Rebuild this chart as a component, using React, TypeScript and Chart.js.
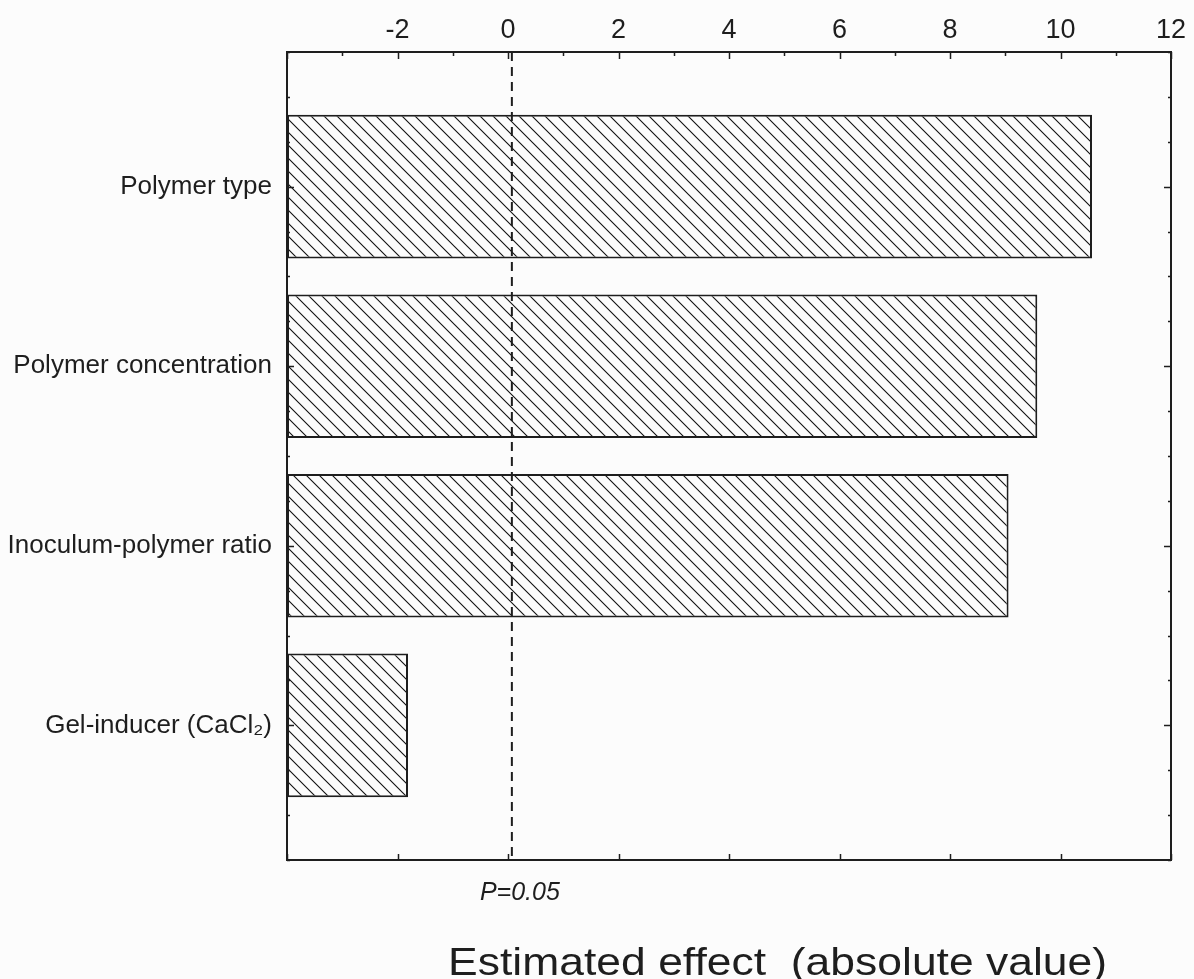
import React, { useEffect, useRef } from 'react';
import { Chart, registerables } from 'chart.js';

Chart.register(...registerables);

// ---- data ----
const CATEGORIES = [
  'Polymer type',
  'Polymer concentration',
  'Inoculum-polymer ratio',
  'Gel-inducer (CaCl₂)',
];
const EFFECTS = [10.57, 9.58, 9.06, -1.81];
const X_MIN = -4;
const X_MAX = 12;
const X_STEP = 2;
const P_LINE = 0.07;
const P_LABEL = 'P=0.05';
const X_TITLE = 'Estimated effect  (absolute value)';

// ---- style ----
const INK = '#1e1e1e';
const BG = '#fcfcfc';
const Y_PAD = 0.75;
const Y_MINOR = 0.25;
const SANS = '"Liberation Sans", Arial, sans-serif';

function makeHatch(target: CanvasRenderingContext2D) {
  const s = 13;
  const c = document.createElement('canvas');
  c.width = s;
  c.height = s;
  const g = c.getContext('2d')!;
  g.fillStyle = BG;
  g.fillRect(0, 0, s, s);
  g.strokeStyle = '#111';
  g.lineWidth = 1.1;
  g.beginPath();
  g.moveTo(-1, -1);
  g.lineTo(s + 1, s + 1);
  g.moveTo(s - 2, -2);
  g.lineTo(s + 2, 2);
  g.moveTo(-2, s - 2);
  g.lineTo(2, s + 2);
  g.stroke();
  return target.createPattern(c, 'repeat');
}

const framePlugin = {
  id: 'frame',
  afterDatasetsDraw(chart: any) {
    const { ctx, chartArea: a, scales } = chart;
    const xs = scales.x;
    const ys = scales.y;
    ctx.save();
    // significance line
    const px = xs.getPixelForValue(P_LINE);
    ctx.strokeStyle = INK;
    ctx.lineWidth = 2;
    ctx.setLineDash([9, 6]);
    ctx.beginPath();
    ctx.moveTo(px, a.top);
    ctx.lineTo(px, a.bottom);
    ctx.stroke();
    ctx.setLineDash([]);
    // frame
    ctx.lineWidth = 2;
    ctx.strokeRect(a.left, a.top, a.right - a.left, a.bottom - a.top);
    // inward ticks
    ctx.lineWidth = 1.5;
    ctx.beginPath();
    const xMinor = X_STEP / 2;
    for (let v = X_MIN; v <= X_MAX + 1e-9; v += xMinor) {
      const p = Math.round(xs.getPixelForValue(v)) + 0.5;
      const major = Math.abs(v / X_STEP - Math.round(v / X_STEP)) < 1e-6;
      ctx.moveTo(p, a.top);
      ctx.lineTo(p, a.top + (major ? 7 : 4));
      if (major) {
        ctx.moveTo(p, a.bottom);
        ctx.lineTo(p, a.bottom - 6);
      }
    }
    for (let v = ys.min; v <= ys.max + 1e-9; v += Y_MINOR) {
      const p = Math.round(ys.getPixelForValue(v)) + 0.5;
      const major = Math.abs(v - Math.round(v)) < 1e-6;
      const len = major ? 7 : 3;
      ctx.moveTo(a.right, p);
      ctx.lineTo(a.right - len, p);
      ctx.moveTo(a.left, p);
      ctx.lineTo(a.left + len, p);
    }
    ctx.stroke();
    ctx.restore();
  },
  afterDraw(chart: any) {
    const { ctx, chartArea: a, scales } = chart;
    const px = scales.x.getPixelForValue(P_LINE);
    ctx.save();
    ctx.fillStyle = INK;
    ctx.textAlign = 'center';
    ctx.textBaseline = 'alphabetic';
    ctx.font = `italic 25px ${SANS}`;
    ctx.fillText(P_LABEL, px + 8, a.bottom + 40);
    ctx.translate(a.left + (a.right - a.left) * 0.555, a.bottom + 115);
    ctx.scale(1.14, 1);
    ctx.font = `39px ${SANS}`;
    ctx.fillText(X_TITLE, 0, 0);
    ctx.restore();
  },
};

export default function App() {
  const ref = useRef<HTMLCanvasElement>(null);

  useEffect(() => {
    const canvas = ref.current!;
    const ctx = canvas.getContext('2d')!;
    const hatch = makeHatch(ctx);
    const chart = new Chart(ctx, {
      type: 'bar',
      data: {
        datasets: [
          {
            data: EFFECTS.map((v, i) => ({ x: v, y: i })) as any,
            base: X_MIN,
            backgroundColor: hatch as any,
            borderColor: INK,
            borderWidth: 2,
            borderSkipped: false,
            barPercentage: 0.8,
            categoryPercentage: 1,
          } as any,
        ],
      },
      options: {
        indexAxis: 'y',
        animation: false,
        responsive: false,
        events: [],
        layout: { padding: { left: 0, top: 0, right: 23, bottom: 119 } },
        plugins: {
          legend: { display: false },
          tooltip: { enabled: false },
          title: { display: false },
        },
        scales: {
          x: {
            type: 'linear',
            position: 'top',
            min: X_MIN,
            max: X_MAX,
            offset: false,
            grid: { display: false, drawTicks: false },
            border: { display: false },
            ticks: {
              stepSize: X_STEP,
              padding: 5,
              color: INK,
              font: { family: SANS, size: 27 },
              callback: (v: any) => (Number(v) === X_MIN ? '' : String(v)),
            },
            afterFit: (s: any) => {
              s.height = 52;
            },
          },
          y: {
            type: 'linear',
            position: 'left',
            reverse: true,
            offset: false,
            min: -Y_PAD,
            max: CATEGORIES.length - 1 + Y_PAD,
            grid: { display: false, drawTicks: false, offset: false },
            border: { display: false },
            afterBuildTicks: (s: any) => {
              s.ticks = CATEGORIES.map((_, i) => ({ value: i }));
            },
            ticks: {
              padding: 15,
              color: INK,
              autoSkip: false,
              font: { family: SANS, size: 26 },
              callback: (v: any) => CATEGORIES[Math.round(Number(v))] ?? '',
            },
            afterFit: (s: any) => {
              s.width = 287;
            },
          },
        },
      } as any,
      plugins: [framePlugin],
    });
    return () => chart.destroy();
  }, []);

  return (
    <div
      style={{
        position: 'fixed',
        left: 0,
        top: 0,
        width: 1194,
        height: 979,
        background: BG,
        overflow: 'hidden',
      }}
    >
      <canvas ref={ref} width={1194} height={979} style={{ display: 'block' }} />
    </div>
  );
}
